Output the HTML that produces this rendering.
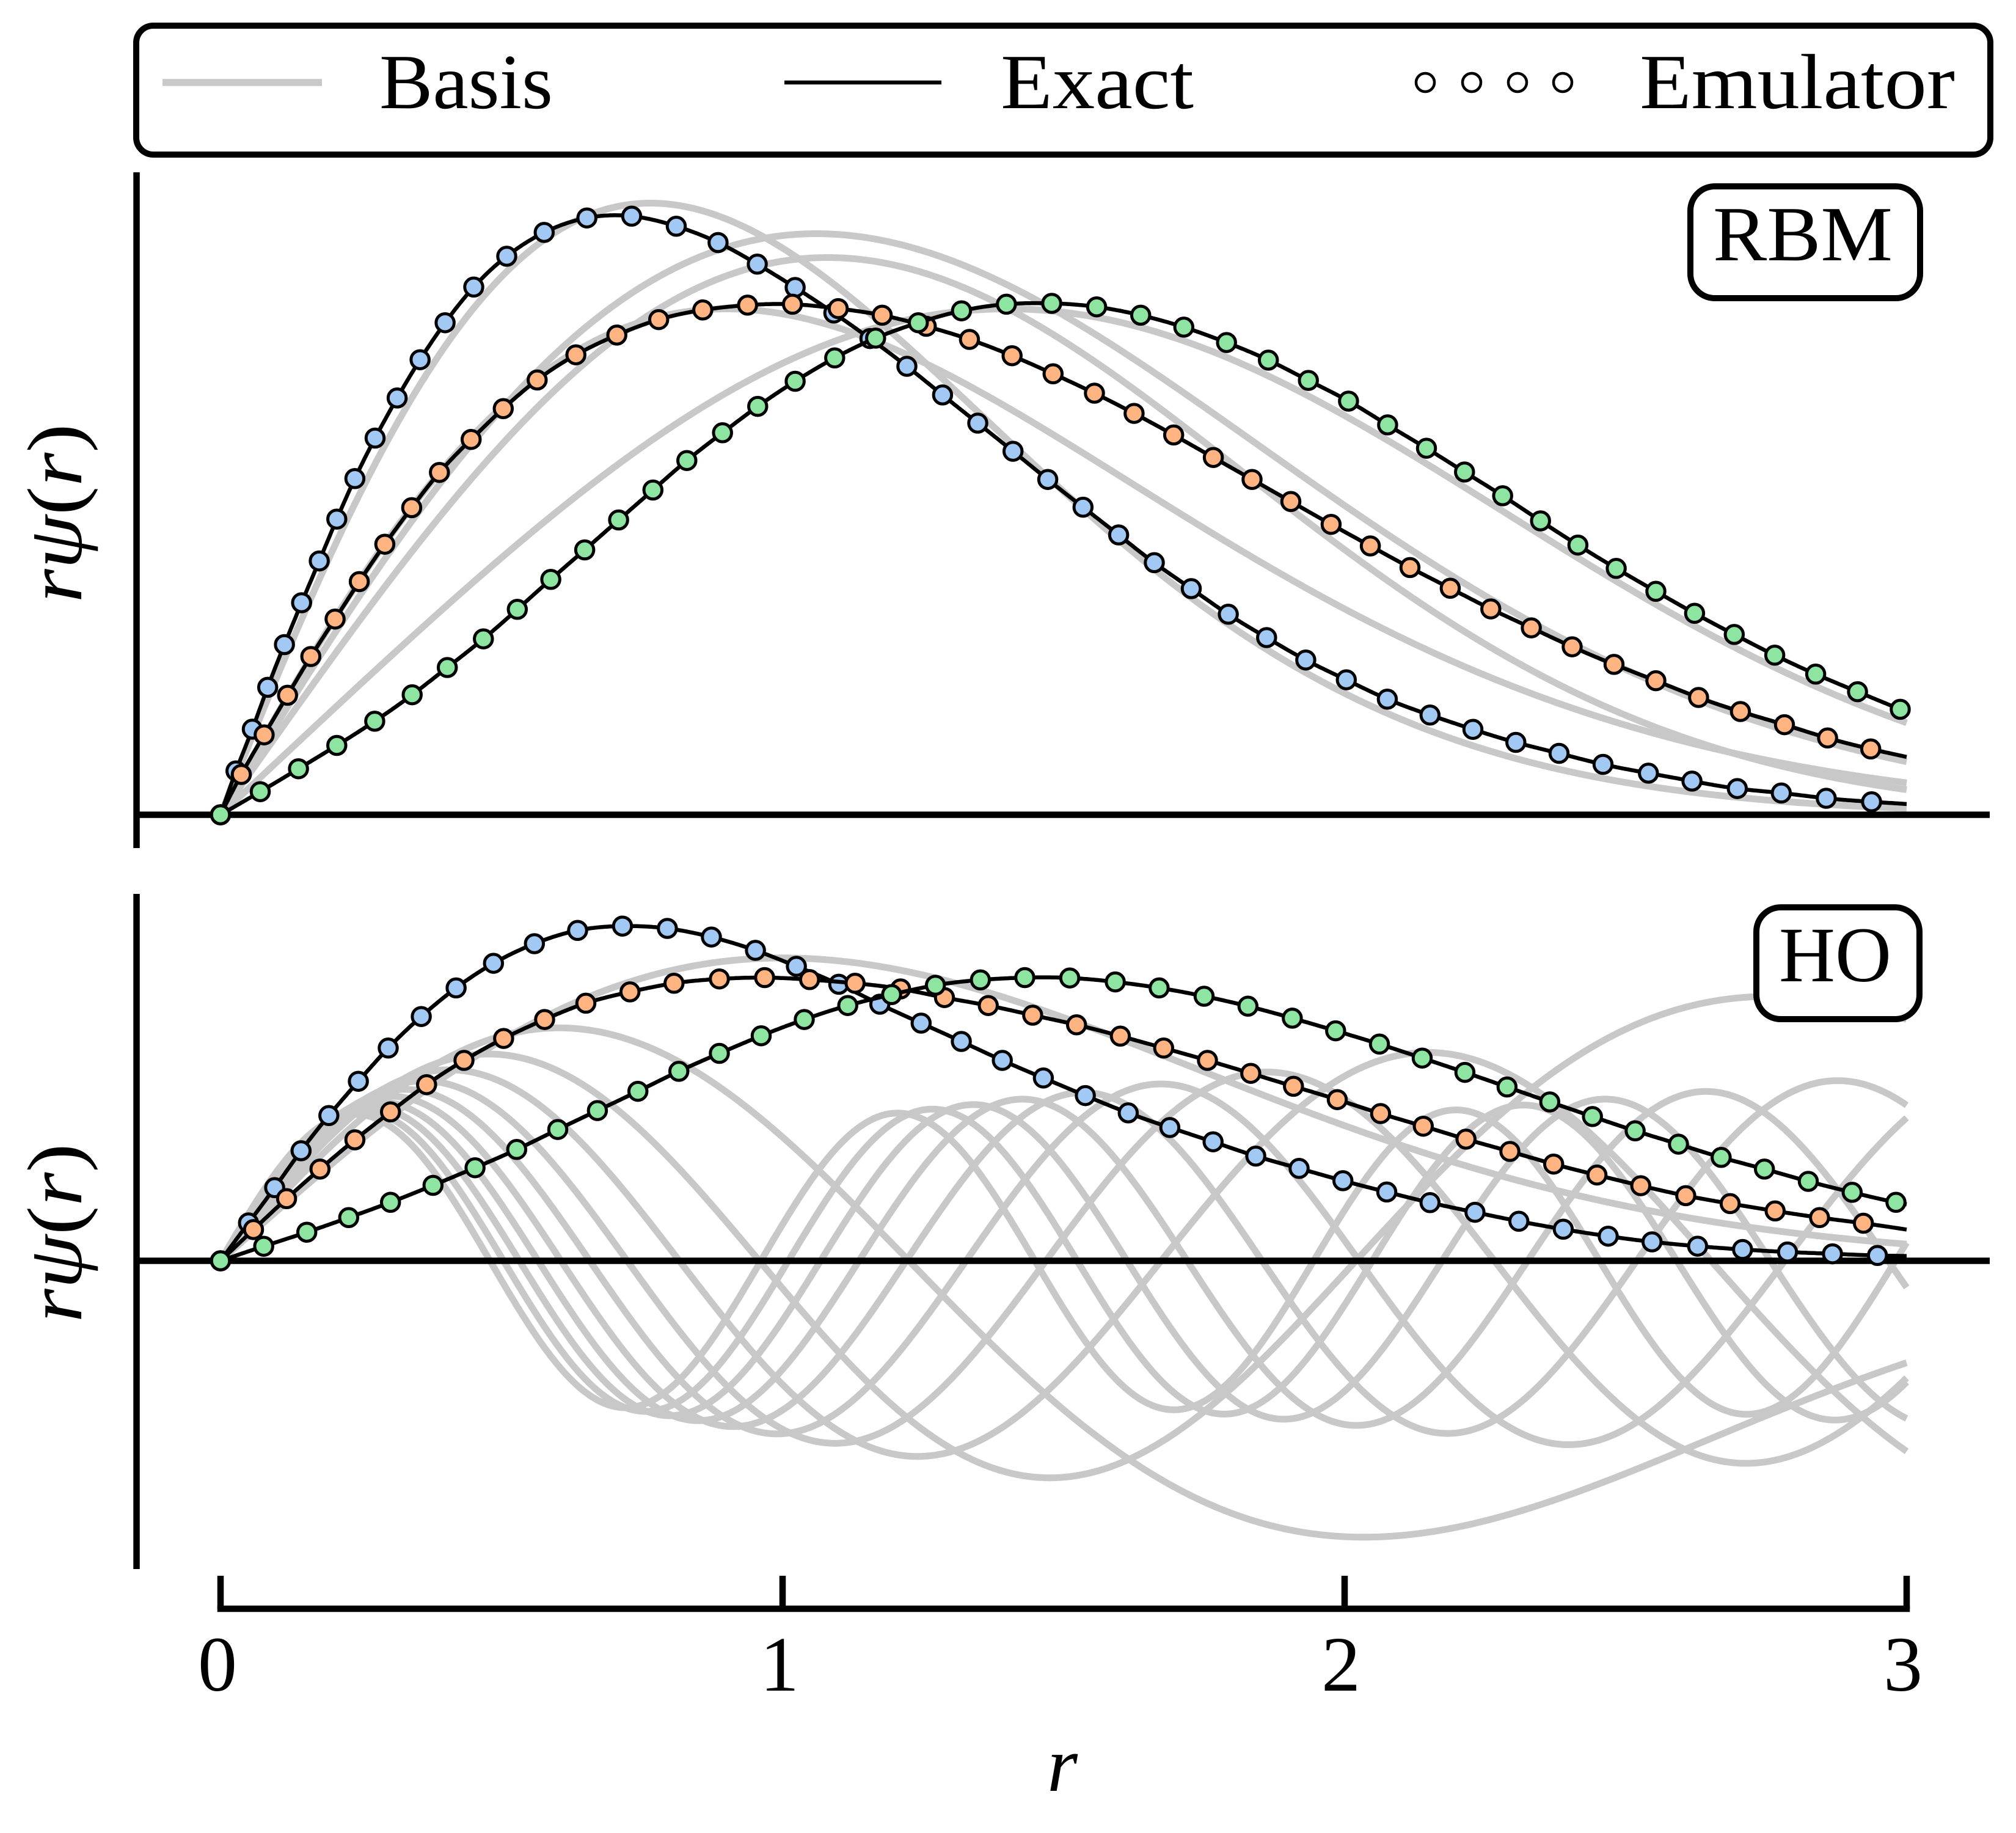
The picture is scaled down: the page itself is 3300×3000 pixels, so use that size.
<!DOCTYPE html>
<html>
<head>
<meta charset="utf-8">
<style>
  html, body { margin: 0; padding: 0; background: #ffffff; }
  svg { display: block; }
  text { font-family: "Liberation Serif", "DejaVu Serif", serif; font-size: 128px; fill: #000; }
</style>
</head>
<body>
<svg id="s" xmlns="http://www.w3.org/2000/svg" width="3300" height="3000" viewBox="0 0 3300 3000">
  <rect x="0" y="0" width="3300" height="3000" fill="#ffffff"/>
  <g id="top"></g>
  <g id="bot"></g>

  <!-- axes lines -->
  <line x1="223.5" y1="282" x2="223.5" y2="1388" stroke="#000" stroke-width="10.5"/>
  <line x1="223.5" y1="1463" x2="223.5" y2="2568" stroke="#000" stroke-width="10.5"/>
  <line x1="361" y1="2633" x2="3121" y2="2633" stroke="#000" stroke-width="10.5" stroke-linecap="square"/>
  <line x1="361" y1="2579" x2="361" y2="2633" stroke="#000" stroke-width="10.5"/>
  <line x1="1281" y1="2579" x2="1281" y2="2633" stroke="#000" stroke-width="10.5"/>
  <line x1="2201" y1="2579" x2="2201" y2="2633" stroke="#000" stroke-width="10.5"/>
  <line x1="3121" y1="2579" x2="3121" y2="2633" stroke="#000" stroke-width="10.5"/>

  <!-- tick labels -->
  <text x="356" y="2767" text-anchor="middle">0</text>
  <text x="1276" y="2767" text-anchor="middle">1</text>
  <text x="2195" y="2767" text-anchor="middle">2</text>
  <text x="3115" y="2767" text-anchor="middle">3</text>
  <text x="1739" y="2931" text-anchor="middle" font-style="italic">r</text>

  <!-- y labels -->
  <text transform="translate(133,840) rotate(-90)" text-anchor="middle" textLength="293" lengthAdjust="spacingAndGlyphs"><tspan font-style="italic">rψ</tspan>(<tspan font-style="italic">r</tspan>)</text>
  <text transform="translate(133,2018) rotate(-90)" text-anchor="middle" textLength="293" lengthAdjust="spacingAndGlyphs"><tspan font-style="italic">rψ</tspan>(<tspan font-style="italic">r</tspan>)</text>

  <!-- legend -->
  <rect x="223" y="42" width="3035" height="211" rx="28" ry="28" fill="#ffffff" stroke="#000" stroke-width="10"/>
  <line x1="266" y1="135" x2="527" y2="135" stroke="#c8c8c8" stroke-width="11.5"/>
  <text x="621" y="177" textLength="284" lengthAdjust="spacingAndGlyphs">Basis</text>
  <line x1="1284" y1="135" x2="1541" y2="135" stroke="#000" stroke-width="6.5"/>
  <text x="1638" y="177" textLength="316" lengthAdjust="spacingAndGlyphs">Exact</text>
  <circle cx="2333" cy="135" r="15" fill="#ffffff" stroke="#000" stroke-width="4.5"/>
  <circle cx="2409" cy="135" r="15" fill="#ffffff" stroke="#000" stroke-width="4.5"/>
  <circle cx="2484" cy="135" r="15" fill="#ffffff" stroke="#000" stroke-width="4.5"/>
  <circle cx="2558" cy="135" r="15" fill="#ffffff" stroke="#000" stroke-width="4.5"/>
  <text x="2684" y="177" textLength="516" lengthAdjust="spacingAndGlyphs">Emulator</text>

  <g id="boxes">
    <rect x="2767" y="305" width="376" height="183" rx="40" ry="40" fill="#ffffff" stroke="#000" stroke-width="10"/>
    <text x="2804" y="426" textLength="294" lengthAdjust="spacingAndGlyphs">RBM</text>
    <rect x="2875" y="1485" width="267" height="183" rx="40" ry="40" fill="#ffffff" stroke="#000" stroke-width="10"/>
    <text x="2912" y="1606" textLength="184" lengthAdjust="spacingAndGlyphs">HO</text>
  </g>
</svg>

<script>
(function(){
  var NS = 'http://www.w3.org/2000/svg';
  function el(tag, attrs, parent){
    var e = document.createElementNS(NS, tag);
    for (var k in attrs) e.setAttribute(k, attrs[k]);
    parent.appendChild(e);
    return e;
  }
  function X(r){ return 361 + 920*r; }

  function makeSpline(pts){
    var n = pts.length, xs = [], ys = [], i;
    for (i=0;i<n;i++){ xs.push(pts[i][0]); ys.push(pts[i][1]); }
    var y2 = new Array(n).fill(0), u = new Array(n).fill(0);
    for (i=1;i<n-1;i++){
      var sig = (xs[i]-xs[i-1])/(xs[i+1]-xs[i-1]);
      var p = sig*y2[i-1] + 2;
      y2[i] = (sig-1)/p;
      var d = (ys[i+1]-ys[i])/(xs[i+1]-xs[i]) - (ys[i]-ys[i-1])/(xs[i]-xs[i-1]);
      u[i] = (6*d/(xs[i+1]-xs[i-1]) - sig*u[i-1])/p;
    }
    y2[n-1] = 0;
    for (var k=n-2;k>=0;k--) y2[k] = y2[k]*y2[k+1] + u[k];
    return function(x){
      var lo=0, hi=n-1;
      while (hi-lo>1){ var m=(lo+hi)>>1; if (xs[m]>x) hi=m; else lo=m; }
      var h = xs[hi]-xs[lo];
      var a = (xs[hi]-x)/h, b = (x-xs[lo])/h;
      return a*ys[lo] + b*ys[hi] + ((a*a*a-a)*y2[lo] + (b*b*b-b)*y2[hi])*h*h/6;
    };
  }

  function pathFrom(f, y0, s){
    var d = '', N = 900;
    for (var i=0;i<=N;i++){
      var r = 3*i/N;
      var y = y0 - s*f(r);
      d += (i? 'L':'M') + X(r).toFixed(1) + ' ' + y.toFixed(1);
    }
    return d;
  }

  function ho(n){
    var fact = 1, k;
    for (k=2;k<=n;k++) fact *= k;
    var g = Math.sqrt(Math.PI)/2;
    for (k=1;k<=n;k++) g *= (k+0.5);
    var N = Math.sqrt(2*fact/g);
    return function(r){
      var x = r*r, a = 0.5;
      var L0 = 1, L1 = 1 + a - x, L;
      if (n===0) L = L0;
      else if (n===1) L = L1;
      else {
        for (var j=1;j<n;j++){
          var L2 = ((2*j+1+a-x)*L1 - (j+a)*L0)/(j+1);
          L0 = L1; L1 = L2;
        }
        L = L1;
      }
      return N*r*Math.exp(-x/2)*L;
    };
  }

  function peak(r0, A, q){
    return function(r){
      var t = r/r0;
      return A*t*Math.exp((1 - Math.pow(t, q))/q);
    };
  }

  var COL = ['#a1c9f4', '#ffb482', '#8de5a1'];

  var topData = [
    [[0,0],[0.0275,0.0732],[0.0565,0.1431],[0.0839,0.2131],[0.1137,0.2845],[0.1442,0.3544],[0.1756,0.4243],[0.2069,0.4943],[0.239,0.562],[0.275,0.6297],[0.3142,0.6967],[0.355,0.7608],[0.3996,0.8226],[0.4505,0.8822],[0.5092,0.9337],[0.5759,0.9735],[0.6518,0.9978],[0.7315,1.0007],[0.8109,0.9839],[0.8852,0.9566],[0.955,0.9205],[1.0224,0.8815],[1.0912,0.8388],[1.1554,0.7961],[1.2212,0.7497],[1.2847,0.7018],[1.3473,0.6548],[1.41,0.6077],[1.4718,0.5606],[1.5346,0.5142],[1.5979,0.4678],[1.6614,0.4214],[1.7272,0.378],[1.793,0.3352],[1.8612,0.2962],[1.9309,0.2587],[2.003,0.2256],[2.076,0.1933],[2.152,0.1667],[2.2283,0.1428],[2.3047,0.121],[2.3815,0.1027],[2.4598,0.0843],[2.5405,0.0696],[2.618,0.0563],[2.6987,0.0438],[2.777,0.0364],[2.857,0.0276],[2.9376,0.0217],[3.0,0.018]],
    [[0,0],[0.037,0.0674],[0.0776,0.1336],[0.1192,0.1998],[0.1607,0.2646],[0.2038,0.3272],[0.2468,0.3898],[0.2923,0.4523],[0.3401,0.5134],[0.3895,0.5723],[0.4459,0.6275],[0.503,0.679],[0.5634,0.7269],[0.6323,0.7689],[0.7051,0.8019],[0.7796,0.8278],[0.858,0.8439],[0.9377,0.852],[1.0176,0.8535],[1.099,0.8462],[1.1773,0.8351],[1.2557,0.8167],[1.3325,0.7947],[1.4084,0.7674],[1.4813,0.7372],[1.5549,0.7048],[1.6254,0.671],[1.6959,0.6349],[1.7664,0.5973],[1.8353,0.5606],[1.9043,0.5237],[1.976,0.4855],[2.0458,0.4494],[2.1163,0.4133],[2.1879,0.3787],[2.2601,0.3441],[2.3322,0.3125],[2.4049,0.2808],[2.4794,0.2514],[2.5538,0.2241],[2.6298,0.1961],[2.7042,0.1726],[2.7826,0.1506],[2.8594,0.1284],[2.9361,0.11],[3.0,0.0967]],
    [[0,0],[0.0706,0.0386],[0.1387,0.0769],[0.2069,0.1159],[0.2743,0.1564],[0.341,0.2006],[0.4035,0.2462],[0.4677,0.2941],[0.528,0.3434],[0.5876,0.3935],[0.6479,0.4428],[0.7083,0.4928],[0.7693,0.5429],[0.8297,0.5922],[0.8931,0.6386],[0.9558,0.6827],[1.0224,0.7247],[1.0927,0.7637],[1.1655,0.7968],[1.2415,0.8226],[1.3184,0.8425],[1.3983,0.8535],[1.4789,0.855],[1.5588,0.8491],[1.6372,0.8351],[1.7139,0.8152],[1.7899,0.7895],[1.8643,0.7601],[1.9355,0.7262],[2.007,0.6915],[2.0765,0.6518],[2.1456,0.6128],[2.2134,0.573],[2.2812,0.5333],[2.3486,0.4913],[2.4151,0.4509],[2.4833,0.4118],[2.5538,0.3735],[2.6227,0.3368],[2.6933,0.3014],[2.7653,0.2668],[2.8382,0.2351],[2.9126,0.2057],[2.9886,0.1763],[3.0,0.172]]
  ];
  var botData = [
    [[0,0],[0.0498,0.114],[0.0963,0.220],[0.1433,0.331],[0.1927,0.437],[0.2452,0.540],[0.2984,0.640],[0.3572,0.735],[0.4191,0.821],[0.4857,0.895],[0.5585,0.954],[0.6353,0.994],[0.7152,1.007],[0.795,1.000],[0.8734,0.974],[0.9517,0.934],[1.0246,0.886],[1.1,0.832],[1.173,0.772],[1.2465,0.715],[1.318,0.660],[1.391,0.603],[1.464,0.550],[1.5387,0.497],[1.615,0.445],[1.689,0.401],[1.766,0.358],[1.842,0.315],[1.919,0.278],[1.997,0.241],[2.075,0.207],[2.152,0.175],[2.232,0.146],[2.310,0.119],[2.389,0.095],[2.469,0.074],[2.547,0.057],[2.628,0.044],[2.708,0.034],[2.788,0.0265],[2.868,0.021],[2.948,0.016],[3.0,0.0145]],
    [[0,0],[0.0587,0.094],[0.1175,0.187],[0.177,0.276],[0.239,0.364],[0.3024,0.448],[0.3666,0.530],[0.4332,0.603],[0.5037,0.669],[0.5766,0.726],[0.650,0.775],[0.7285,0.809],[0.8069,0.835],[0.8875,0.848],[0.968,0.852],[1.048,0.846],[1.129,0.835],[1.21,0.818],[1.288,0.792],[1.366,0.768],[1.445,0.739],[1.523,0.710],[1.601,0.676],[1.678,0.640],[1.756,0.603],[1.833,0.564],[1.909,0.525],[1.987,0.485],[2.064,0.443],[2.14,0.405],[2.216,0.366],[2.294,0.329],[2.372,0.291],[2.449,0.258],[2.527,0.226],[2.607,0.196],[2.686,0.172],[2.766,0.150],[2.845,0.130],[2.923,0.113],[3.0,0.094]],
    [[0,0],[0.0768,0.0437],[0.1535,0.086],[0.228,0.130],[0.3024,0.176],[0.378,0.227],[0.4528,0.280],[0.527,0.335],[0.600,0.395],[0.6705,0.452],[0.7426,0.510],[0.8154,0.570],[0.8875,0.624],[0.962,0.677],[1.0386,0.726],[1.116,0.768],[1.194,0.801],[1.272,0.829],[1.352,0.845],[1.431,0.852],[1.511,0.851],[1.592,0.839],[1.670,0.821],[1.75,0.796],[1.828,0.766],[1.907,0.730],[1.984,0.692],[2.062,0.652],[2.138,0.610],[2.214,0.567],[2.289,0.523],[2.365,0.478],[2.441,0.434],[2.517,0.391],[2.594,0.351],[2.670,0.311],[2.747,0.276],[2.825,0.239],[2.903,0.206],[2.981,0.176],[3.0,0.170]]
  ];

  function drawPanel(g, greys, greyY0, greyS, data, y0, s){
    var i;
    for (i=0;i<greys.length;i++){
      el('path', {d: pathFrom(greys[i], greyY0, greyS), fill:'none', stroke:'#c8c8c8', 'stroke-width':'11', 'stroke-linejoin':'round', 'stroke-linecap':'butt'}, g);
    }
    el('line', {x1:'223.5', y1: y0, x2:'3257', y2: y0, stroke:'#000', 'stroke-width':'10.5'}, g);
    for (i=0;i<data.length;i++){
      var pts = data[i];
      var f = makeSpline(pts);
      el('path', {d: pathFrom(f, y0, s), fill:'none', stroke:'#000', 'stroke-width':'6.5', 'stroke-linejoin':'round'}, g);
      for (var j=0;j<pts.length-1;j++){
        el('circle', {cx: X(pts[j][0]).toFixed(1), cy: (y0 - s*pts[j][1]).toFixed(1), r:'14.75', fill: COL[i], stroke:'#000', 'stroke-width':'5'}, g);
      }
    }
  }

  var topGreys = [
    peak(0.765, 1001, 1.8),
    peak(1.06, 951, 1.97),
    peak(1.08, 912, 2.3),
    peak(0.9, 828, 1.7),
    peak(1.40, 828, 2.65)
  ];
  drawPanel(document.getElementById('top'), topGreys, 1333.5, 1, topData, 1333.5, 979);

  var hoGreys = [];
  for (var n=0;n<=10;n++) hoGreys.push(ho(n));
  drawPanel(document.getElementById('bot'), hoGreys, 2063.5, 544, botData, 2063.5, 544);
})();
</script>
</body>
</html>
